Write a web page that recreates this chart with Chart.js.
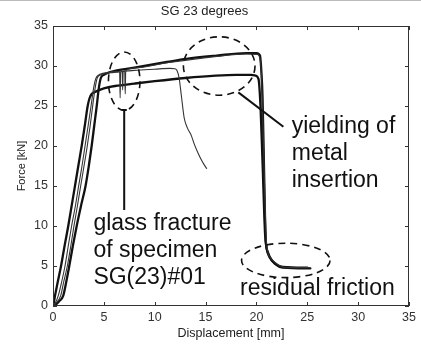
<!DOCTYPE html>
<html>
<head>
<meta charset="utf-8">
<script src="https://cdn.jsdelivr.net/npm/chart.js@4"></script>
<style>
  html, body { margin: 0; padding: 0; background: #fff; }
  canvas { display: block; }
</style>
</head>
<body>
<canvas id="forceChart" width="421" height="347"></canvas>
<script>
// axis ticks (mm and kN)
const xTicks = [0, 5, 10, 15, 20, 25, 30, 35];
const yTicks = [0, 5, 10, 15, 20, 25, 30, 35];

// [displacement mm, force kN]
const specimenA = [[0,0],[0.08,0.4],[0.2,1.3],[0.45,2.9],[0.79,5],[1.15,7.6],[1.5,10],[1.83,12.5],[2.16,15],[2.5,17.6],
  [2.82,20],[3.12,22.5],[3.41,25],[3.6,26],[3.8,26.5],[4.2,26.8],[5,27.2],[6.1,27.5],[8,27.8],[10,28.1],[13,28.5],
  [16,28.8],[18,28.9],[19.5,28.9],[19.9,28.8],[20.2,28.4],[20.4,25],[20.6,18],[20.85,9],[21,7.2],[21.3,6.1],
  [21.8,5.3],[22.6,4.8],[25.3,4.7]];
const specimenB = [[0,0],[0.3,0.2],[0.6,0.6],[1.01,1.3],[1.3,3],[1.6,5],[1.95,7.5],[2.33,10],[2.75,12.5],[3.2,15],
  [3.52,17.5],[3.8,20],[4.05,22.5],[4.3,25],[4.5,27.2],[4.7,28.5],[5,28.9],[5.6,29.25],[8,29.8],[11.2,30.5],
  [13.1,30.9],[16.1,31.3],[19,31.6],[20,31.6],[20.35,31.3],[20.5,29],[20.6,26.1],[20.75,17],[20.9,8.6],[21.1,6.8],
  [21.6,5.6],[22.6,4.9],[25,4.8]];
const specimenC = [[0,0],[0.2,0.3],[0.52,1.3],[0.85,3],[1.18,5],[1.5,7.5],[1.83,10],[2.2,12.5],[2.52,15],[2.85,17.5],
  [3.15,20],[3.45,22.5],[3.74,25],[4,27.3],[4.2,28.4],[4.5,28.9],[4.8,29.05],[6,29.2],[8,29.45],[10,29.6],
  [11.5,29.7],[12,29.65],[12.2,29.4],[12.4,28.5],[12.6,26.5],[12.9,23.5],[13.2,22.3],[13.6,21.3],[13.9,20.2],
  [14.3,19],[14.7,18],[15.1,17.2]];
const specimenD = [[0,0],[0.25,0.3],[0.76,1.3],[1.05,3],[1.41,5],[1.75,7.5],[2.06,10],[2.4,12.5],[2.72,15],[3.05,17.5],
  [3.37,20],[3.65,22.5],[3.9,25],[4.15,27.3],[4.35,28.5],[4.7,28.9],[5.2,29.1],[6,29.3],[6.55,29.3],[6.6,26],
  [6.65,29.2],[6.8,29.4],[6.85,27],[6.9,29.3],[7.05,29.4],[7.1,26.5],[7.15,29.4],[8,29.75],[11.2,30.4],
  [16.1,31.2],[19,31.5],[20.1,31.45],[20.4,30.5],[20.55,27],[20.8,15],[21,7.8],[21.4,6],[22.2,5.1],[23,4.8],[25.2,4.8]];

// annotation marks, in data units
const ellipses = [
  { cx: 7.0, cy: 28.1, rx: 1.55, ry: 3.65 },
  { cx: 16.34, cy: 30.0, rx: 3.52, ry: 3.65 },
  { cx: 22.89, cy: 5.7, rx: 4.35, ry: 2.15 }
];
const leaders = [
  { x1: 7.0, y1: 24.5, x2: 7.0, y2: 12.0, cap: 0.25 },
  { x1: 18.22, y1: 26.7, x2: 22.65, y2: 22.4 }
];
const notes = [
  { x: 3.97, y: 9.45, lines: ['glass fracture', 'of specimen', 'SG(23)#01'] },
  { x: 23.47, y: 21.6, lines: ['yielding of', 'metal', 'insertion'] },
  { x: 18.39, y: 1.35, lines: ['residual friction'] }
];

const FONT = 'Arial, "Liberation Sans", Helvetica, sans-serif';

const toPts = arr => arr.map(p => ({ x: p[0], y: p[1] }));

function series(data, width, color) {
  return {
    data: toPts(data),
    showLine: true,
    borderColor: color,
    borderWidth: width,
    pointRadius: 0,
    cubicInterpolationMode: 'monotone',
    borderJoinStyle: 'round',
    borderCapStyle: 'round'
  };
}

// box round the plot with ticks pointing inwards, then the notes
const framePlugin = {
  id: 'frame',
  afterDraw(chart) {
    const { ctx, chartArea: a, scales: { x, y } } = chart;
    ctx.save();
    // thin grey edge along the top of the picture
    ctx.fillStyle = '#bbb';
    ctx.fillRect(0, 0, chart.width, 1);

    ctx.strokeStyle = '#333';
    ctx.lineWidth = 1;
    ctx.strokeRect(a.left + 0.5, a.top + 0.5, a.right - a.left - 1, a.bottom - a.top - 1);
    ctx.beginPath();
    xTicks.forEach(v => {
      const px = Math.round(x.getPixelForValue(v)) + 0.5;
      ctx.moveTo(px, a.bottom); ctx.lineTo(px, a.bottom - 4);
      ctx.moveTo(px, a.top); ctx.lineTo(px, a.top + 4);
    });
    yTicks.forEach(v => {
      const py = Math.round(y.getPixelForValue(v)) + 0.5;
      ctx.moveTo(a.left, py); ctx.lineTo(a.left + 4, py);
      ctx.moveTo(a.right, py); ctx.lineTo(a.right - 4, py);
    });
    ctx.stroke();

    // dashed ellipses
    ctx.strokeStyle = '#111';
    ctx.lineWidth = 1.6;
    ctx.setLineDash([7, 5]);
    ellipses.forEach(e => {
      const cx = x.getPixelForValue(e.cx), cy = y.getPixelForValue(e.cy);
      const rx = x.getPixelForValue(e.cx + e.rx) - cx;
      const ry = cy - y.getPixelForValue(e.cy + e.ry);
      ctx.beginPath();
      ctx.ellipse(cx, cy, rx, ry, 0, 0, Math.PI * 2);
      ctx.stroke();
    });
    ctx.setLineDash([]);

    // leader lines
    ctx.lineWidth = 2;
    leaders.forEach(l => {
      ctx.beginPath();
      ctx.moveTo(x.getPixelForValue(l.x1), y.getPixelForValue(l.y1));
      ctx.lineTo(x.getPixelForValue(l.x2), y.getPixelForValue(l.y2));
      if (l.cap) {
        ctx.moveTo(x.getPixelForValue(l.x1 - l.cap), y.getPixelForValue(l.y1));
        ctx.lineTo(x.getPixelForValue(l.x1 + l.cap), y.getPixelForValue(l.y1));
      }
      ctx.stroke();
    });

    // note text
    ctx.fillStyle = '#111';
    ctx.font = '23px ' + FONT;
    ctx.textBaseline = 'alphabetic';
    ctx.textAlign = 'left';
    notes.forEach(n => {
      const px = x.getPixelForValue(n.x), py = y.getPixelForValue(n.y);
      n.lines.forEach((t, i) => ctx.fillText(t, px, py + i * 27));
    });
    ctx.restore();
  }
};

new Chart(document.getElementById('forceChart'), {
  type: 'scatter',
  data: {
    datasets: [
      series(specimenC, 1.1, '#333'),
      series(specimenD, 1.1, '#333'),
      series(specimenA, 2.3, '#111'),
      series(specimenB, 2.3, '#111')
    ]
  },
  options: {
    responsive: false,
    animation: false,
    layout: { padding: { left: 0, right: 12, top: 0, bottom: 0 } },
    plugins: {
      legend: { display: false },
      tooltip: { enabled: false },
      title: {
        display: true,
        text: 'SG 23 degrees',
        color: '#222',
        font: { family: FONT, size: 13, weight: 'normal', lineHeight: 1.2 },
        padding: { top: 4, bottom: 6.4 }
      }
    },
    scales: {
      x: {
        type: 'linear', min: 0, max: 35,
        afterBuildTicks: s => { s.ticks = xTicks.map(v => ({ value: v })); },
        afterFit: s => { s.height = 41; },
        grid: { display: false, drawTicks: false },
        border: { display: false },
        ticks: { color: '#333', padding: 4, font: { family: FONT, size: 12.5 }, maxRotation: 0 },
        title: {
          display: true, text: 'Displacement [mm]', color: '#222',
          font: { family: FONT, size: 12.5, lineHeight: 1.2 },
          padding: { top: 0, bottom: 5.5 }
        }
      },
      y: {
        type: 'linear', min: 0, max: 35,
        afterBuildTicks: s => { s.ticks = yTicks.map(v => ({ value: v })); },
        afterFit: s => { s.width = 53; },
        grid: { display: false, drawTicks: false },
        border: { display: false },
        ticks: { color: '#333', padding: 5, font: { family: FONT, size: 12.5 } },
        title: {
          display: true, text: 'Force [kN]', color: '#222',
          font: { family: FONT, size: 11, lineHeight: 1.2 },
          padding: { top: 15.4, bottom: 0 }
        }
      }
    }
  },
  plugins: [framePlugin]
});
</script>
</body>
</html>
